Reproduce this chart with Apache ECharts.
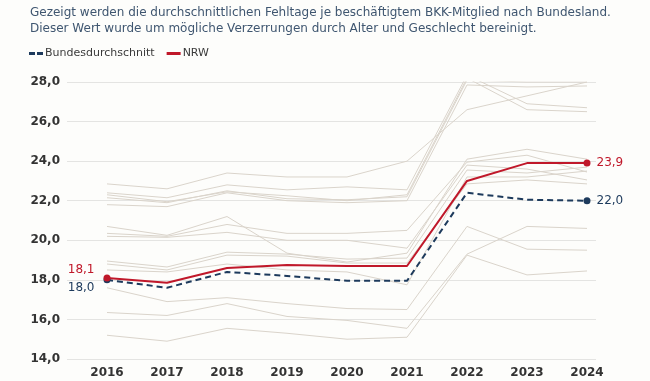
<!DOCTYPE html>
<html>
<head>
<meta charset="utf-8">
<script src="https://cdn.jsdelivr.net/npm/echarts@6/dist/echarts.min.js"></script>
<style>
html,body{margin:0;padding:0;background:#fdfdfb;}
#chart{width:650px;height:381px;}
</style>
</head>
<body>
<div id="chart"></div>
<script>
const years = [2016, 2017, 2018, 2019, 2020, 2021, 2022, 2023, 2024];
const yTicks = [14, 16, 18, 20, 22, 24, 26, 28];

const nrw  = [18.1, 17.85, 18.6, 18.75, 18.7, 18.7, 23.0, 23.9, 23.9];
const bund = [18.0, 17.6, 18.4, 18.2, 17.95, 17.95, 22.4, 22.05, 22.0];

// other federal states (grey background lines)
const stateA = [22.85, 22.6, 23.4, 23.2, 23.2, 24.0, 26.6, 27.3, 28.0];
const stateB = [22.4, 22.15, 22.8, 22.55, 22.7, 22.55, 28.35, 26.9, 26.7];
const stateC = [22.3, 21.95, 22.45, 22.25, 22.0, 22.3, 28.2, 26.6, 26.5];
const stateD = [22.15, 21.9, 22.5, 22.1, 22.05, 22.2, 28.1, 28.0, 28.0];
const stateE = [21.8, 21.7, 22.4, 22.0, 21.9, 22.0, 27.85, 27.75, 27.8];
const stateF = [20.7, 20.25, 21.2, 19.35, 18.9, 19.35, 24.1, 24.6, 24.1];
const stateG = [20.35, 20.2, 20.8, 20.35, 20.35, 20.5, 23.95, 24.3, 23.45];
const stateH = [20.2, 20.15, 20.4, 20.0, 20.0, 19.6, 23.8, 23.6, 23.05];
const stateI = [18.95, 18.65, 19.4, 19.3, 19.05, 19.1, 23.55, 23.4, 23.7];
const stateJ = [18.8, 18.5, 19.25, 19.2, 18.85, 18.85, 22.85, 23.05, 22.85];
const stateK = [18.5, 18.4, 18.8, 18.5, 18.4, 17.75, 23.2, 23.2, 23.5];
const stateL = [17.6, 16.9, 17.1, 16.8, 16.55, 16.5, 20.7, 19.55, 19.5];
const stateM = [16.35, 16.2, 16.8, 16.15, 15.95, 15.55, 19.3, 20.7, 20.6];
const stateN = [15.2, 14.9, 15.55, 15.3, 15.0, 15.1, 19.25, 18.25, 18.45];

const greyStates = [stateA, stateB, stateC, stateD, stateE, stateF, stateG,
  stateH, stateI, stateJ, stateK, stateL, stateM, stateN];

const fmt = v => v.toFixed(1).replace('.', ',');

const greySeries = greyStates.map((arr, i) => ({
  name: 'Land ' + (i + 1),
  type: 'line',
  data: arr.map((v, j) => [years[j], v]),
  symbol: 'none',
  silent: true,
  z: 1,
  lineStyle: { color: '#dad4cb', width: 1 }
}));

function endData(arr, color, startOffset) {
  return arr.map((v, j) => {
    const isStart = j === 0, isEnd = j === arr.length - 1;
    const item = { value: [years[j], v] };
    if (isStart || isEnd) {
      item.symbol = 'circle';
      item.symbolSize = 7;
      item.label = {
        show: true,
        formatter: fmt(v),
        color: color,
        fontFamily: 'DejaVu Sans',
        fontSize: 12,
        position: isEnd ? 'right' : 'left',
        distance: isEnd ? 6 : 9,
        offset: isStart ? [0, startOffset] : [0, 0]
      };
    }
    return item;
  });
}

const chart = echarts.init(document.getElementById('chart'), null, { renderer: 'canvas' });
chart.setOption({
  backgroundColor: '#fdfdfb',
  animation: false,
  title: {
    text: 'Gezeigt werden die durchschnittlichen Fehltage je beschäftigtem BKK-Mitglied nach Bundesland.\nDieser Wert wurde um mögliche Verzerrungen durch Alter und Geschlecht bereinigt.',
    left: 25,
    top: 0,
    textStyle: {
      fontFamily: 'DejaVu Sans',
      fontSize: 12,
      fontWeight: 'normal',
      color: '#3f5670',
      lineHeight: 16
    }
  },
  legend: {
    left: 24,
    top: 43,
    itemWidth: 14,
    itemHeight: 3,
    itemGap: 12,
    data: [
      { name: 'Bundesdurchschnitt', icon: 'path://M0,0h6v3h-6zM8,0h6v3h-6z' },
      { name: 'NRW', icon: 'rect' }
    ],
    textStyle: { fontFamily: 'DejaVu Sans', fontSize: 11, color: '#3a3a3a', padding: [0, 0, 0, -3] }
  },
  grid: { left: 67, right: 54, top: 82, bottom: 22 },
  xAxis: {
    type: 'value',
    min: 2015.3333,
    max: 2024.15,
    axisLine: { show: false },
    axisTick: { show: false },
    splitLine: { show: false },
    axisLabel: {
      customValues: years,
      formatter: v => String(Math.round(v)),
      fontFamily: 'DejaVu Sans',
      fontWeight: 'bold',
      fontSize: 12,
      color: '#333',
      margin: 8
    }
  },
  yAxis: {
    type: 'value',
    min: 14,
    max: 28,
    interval: 2,
    axisLine: { show: false },
    axisTick: { show: false },
    splitLine: { lineStyle: { color: '#e4e4e2', width: 1.2 } },
    axisLabel: {
      formatter: v => fmt(v),
      fontFamily: 'DejaVu Sans',
      fontWeight: 'bold',
      fontSize: 12,
      color: '#333',
      margin: 7
    }
  },
  series: greySeries.concat([
    {
      name: 'Bundesdurchschnitt',
      type: 'line',
      z: 3,
      symbol: 'none',
      data: endData(bund, '#1d3a5c', 8),
      itemStyle: { color: '#1d3a5c' },
      lineStyle: { color: '#1d3a5c', width: 2, type: [6, 4] }
    },
    {
      name: 'NRW',
      type: 'line',
      z: 4,
      symbol: 'none',
      data: endData(nrw, '#c0182a', -8),
      itemStyle: { color: '#c0182a' },
      lineStyle: { color: '#c0182a', width: 2 }
    }
  ])
});
</script>
</body>
</html>
